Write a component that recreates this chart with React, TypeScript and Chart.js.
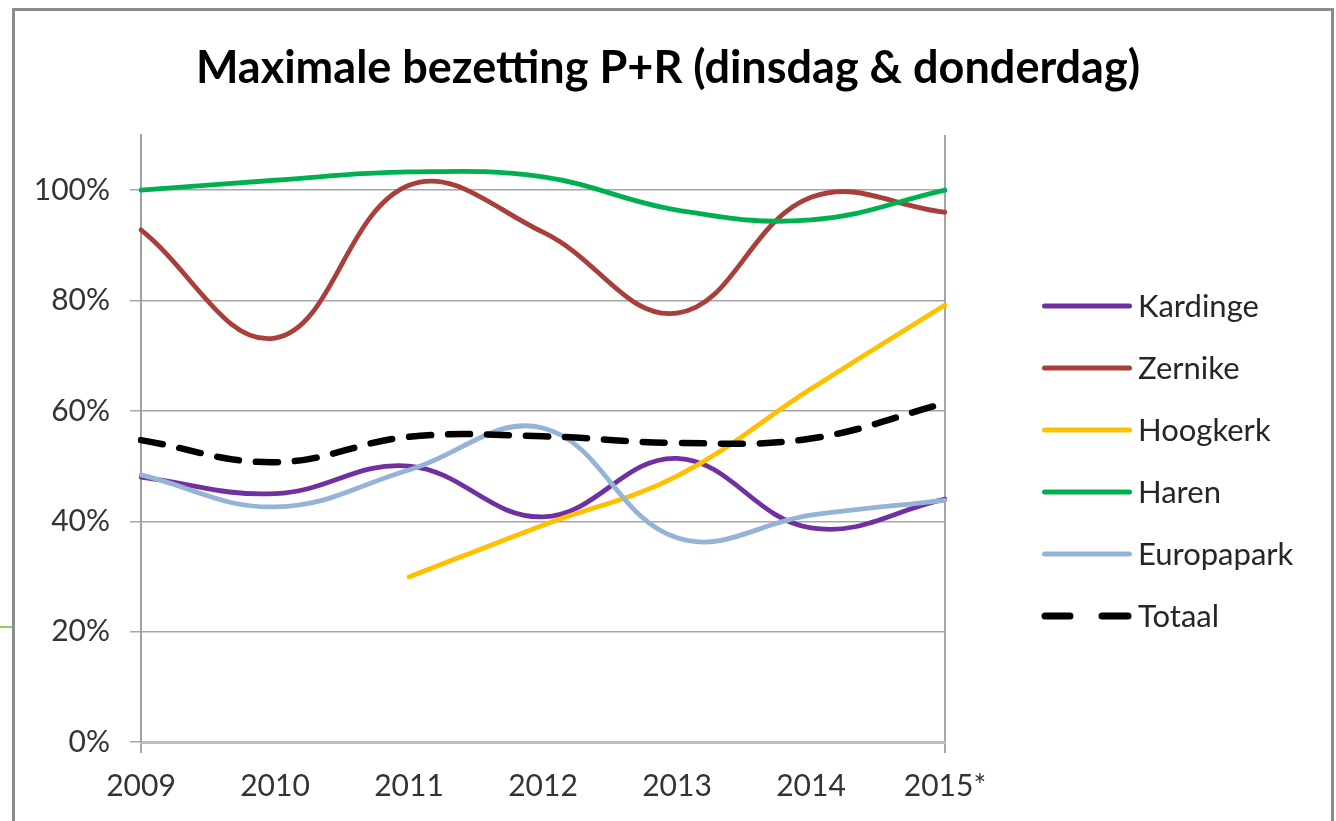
import React, { useEffect, useRef } from 'react';
import { Chart, registerables } from 'chart.js';

Chart.register(...registerables);

// ---- data ----
const years = ['2009', '2010', '2011', '2012', '2013', '2014', '2015*'];
const kardinge = [48, 45, 50, 40.8, 51.4, 38.8, 44];
const zernike = [92.8, 73.2, 100.9, 92.4, 77.7, 98.7, 96];
const hoogkerk = [null, null, 29.9, 39.3, 48.2, 64, 79.2];
const haren = [100, 101.8, 103.3, 102.4, 96.4, 94.6, 100];
const europapark = [48.4, 42.6, 49.3, 56.9, 37, 41.1, 43.8];
const totaal = [54.7, 50.7, 55.3, 55.4, 54.2, 55, 61.4];
const seriesNames = ['Kardinge', 'Zernike', 'Hoogkerk', 'Haren', 'Europapark', 'Totaal'];
const seriesColors = ['#7030A0', '#A93F3B', '#FFC000', '#00B050', '#95B3D7', '#000000'];
const yMax = 110;
const yStep = 20;
const titleText = 'Maximale bezetting P+R (dinsdag & donderdag)';

const FONT = 'Lato';

// legend drawn on the chart canvas from the datasets
const sideLegend = {
  id: 'sideLegend',
  afterDraw(chart: any) {
    const ctx: CanvasRenderingContext2D = chart.ctx;
    const area = chart.chartArea;
    const x0 = area.right + 97;
    const lineLen = 90;
    const step = 62;
    const n = chart.data.datasets.length;
    const mid = (area.top + area.bottom) / 2 + 22.5;
    ctx.save();
    chart.data.datasets.forEach((ds: any, i: number) => {
      const y = mid + (i - (n - 1) / 2) * step;
      ctx.strokeStyle = ds.borderColor;
      ctx.lineCap = 'round';
      ctx.setLineDash([]);
      ctx.beginPath();
      if (ds.borderDash && ds.borderDash.length) {
        ctx.lineWidth = 7;
        ctx.moveTo(x0 + 3, y);
        ctx.lineTo(x0 + 28, y);
        ctx.moveTo(x0 + 60, y);
        ctx.lineTo(x0 + lineLen - 4, y);
      } else {
        ctx.lineWidth = 5;
        ctx.moveTo(x0 + 2.5, y);
        ctx.lineTo(x0 + lineLen - 2.5, y);
      }
      ctx.stroke();
      ctx.fillStyle = '#262626';
      ctx.font = `31px ${FONT}`;
      ctx.textBaseline = 'middle';
      ctx.textAlign = 'left';
      ctx.fillText(ds.label, x0 + lineLen + 6, y + 1);
    });
    ctx.restore();
  },
};

export default function App() {
  const ref = useRef<HTMLCanvasElement>(null);

  useEffect(() => {
    const canvas = ref.current!;
    const values = [kardinge, zernike, hoogkerk, haren, europapark, totaal];

    const datasets = values.map((v, i) => ({
      label: seriesNames[i],
      data: v,
      borderColor: seriesColors[i],
      backgroundColor: seriesColors[i],
      borderWidth: i === 5 ? 6.5 : 4.8,
      borderDash: i === 5 ? [22, 17] : [],
      borderCapStyle: 'round',
      pointRadius: 0,
      pointHoverRadius: 0,
      tension: 0.4,
      fill: false,
      spanGaps: false,
      order: 5 - i,
      yAxisID: 'y',
    }));

    const chart = new Chart(canvas, {
      type: 'line',
      data: { labels: years, datasets: datasets as any },
      plugins: [sideLegend],
      options: {
        animation: false,
        responsive: false,
        maintainAspectRatio: false,
        layout: { padding: { left: 0, right: 0, top: 0, bottom: 2 } },
        plugins: {
          tooltip: { enabled: false },
          legend: { display: false },
          title: {
            display: true,
            text: titleText,
            color: '#000',
            font: { family: FONT, size: 45, weight: 'bold' },
            padding: { top: 41, bottom: 40 },
          },
        },
        scales: {
          x: {
            type: 'category',
            offset: false,
            grid: {
              display: true,
              drawOnChartArea: true,
              drawTicks: true,
              tickLength: 11,
              lineWidth: 2,
              color: (c: any) => (c.index === 0 || c.index === years.length - 1 ? '#a6a6a6' : 'rgba(0,0,0,0)'),
            },
            border: { display: true, color: '#bdbdbd', width: 3 },
            ticks: {
              color: '#333',
              font: { family: FONT, size: 30 },
              padding: 15,
              maxRotation: 0,
              autoSkip: false,
            },
          },
          y: {
            type: 'linear',
            position: 'left',
            min: 0,
            max: yMax,
            afterFit: (s: any) => {
              s.width = 141;
            },
            grid: {
              color: '#a6a6a6',
              lineWidth: 1.5,
              tickLength: 11,
              drawTicks: true,
            },
            border: { display: true, color: '#a0a0a0', width: 2 },
            ticks: {
              stepSize: yStep,
              includeBounds: false,
              color: '#333',
              padding: 20,
              font: { family: FONT, size: 30 },
              callback: (v: any) => `${v}%`,
            },
          },
          // empty right-hand space reserved for the legend
          legendSpace: {
            type: 'linear',
            position: 'right',
            display: true,
            min: 0,
            max: 1,
            grid: { display: false, drawOnChartArea: false, drawTicks: false },
            border: { display: false },
            ticks: { display: false },
            afterFit: (s: any) => {
              s.width = 391;
            },
          },
        },
      } as any,
    });
    return () => chart.destroy();
  }, []);

  return (
    <div style={{ position: 'fixed', left: 0, top: 0, width: 1336, height: 821, overflow: 'hidden', background: '#fff' }}>
      <div
        style={{
          position: 'absolute',
          left: 12,
          top: 8,
          width: 1322,
          height: 900,
          boxSizing: 'border-box',
          border: '3px solid #8c8c8c',
        }}
      />
      <div style={{ position: 'absolute', left: 0, top: 626, width: 12, height: 2, background: '#92D050' }} />
      <canvas ref={ref} width={1336} height={821} style={{ position: 'absolute', left: 0, top: 0, width: 1336, height: 821 }} />
    </div>
  );
}
